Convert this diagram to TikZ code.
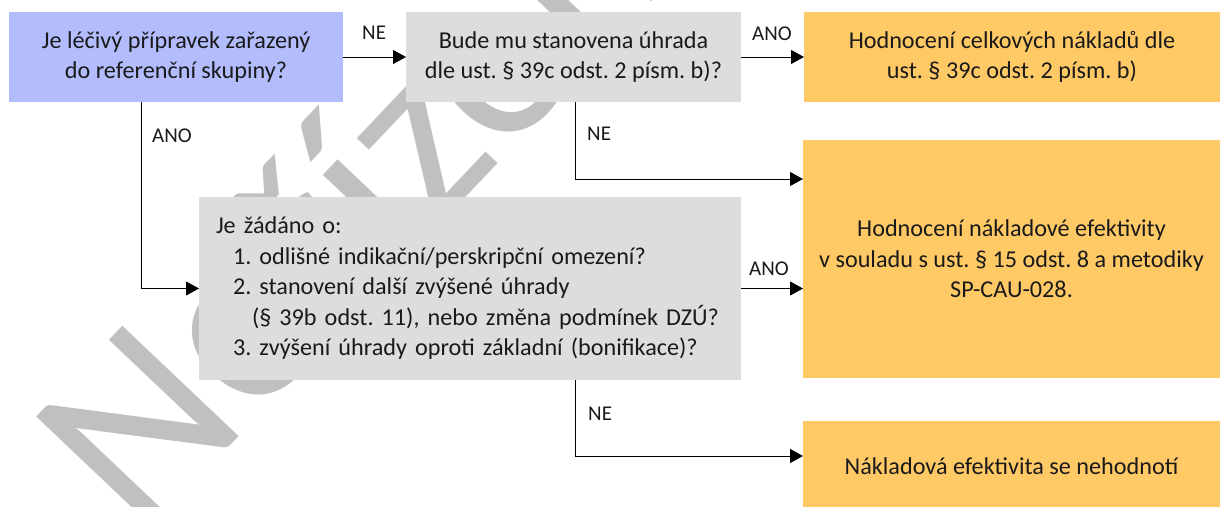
\documentclass[tikz,border=0pt]{standalone}
\usepackage{fontspec}
\setmainfont{Carlito}
\usetikzlibrary{arrows.meta}
\definecolor{bluebox}{HTML}{B3BDFE}
\definecolor{greybox}{HTML}{DDDDDD}
\definecolor{orangebox}{HTML}{FFC965}
\definecolor{wmark}{HTML}{C0C0C0}
\definecolor{txt}{HTML}{1A1A1A}
\frenchspacing
\begin{document}
\begin{tikzpicture}[x=1pt,y=-1pt,
  box/.style={inner sep=0pt, outer sep=0pt, align=center, text=txt,
    font=\fontsize{24.2}{30.5}\selectfont},
  bluestyle/.style={box, fill=bluebox},
  greystyle/.style={box, fill=greybox},
  orangestyle/.style={box, fill=orangebox},
  lbl/.style={font=\fontsize{21}{23}\selectfont, anchor=base west, inner sep=0pt, text=txt},
  arr/.style={-{Triangle[length=13pt,width=14pt]}, line width=1pt, draw=black},
]
\useasboundingbox (0,0) rectangle (1220,506);
\clip (0,0) rectangle (1220,506);
\fill[white] (0,0) rectangle (1220,506);
% watermark
\node[anchor=base west, rotate=46.5, text=wmark, inner sep=0pt,
  font=\fontsize{250}{250}\selectfont] (wm) at (140.5,541) {Neřízená kopie};
% boxes
\node[bluestyle, minimum width=334pt, minimum height=90pt] (blue) at (176,57)
  {Je léčivý přípravek zařazený\\do referenční skupiny?};
\node[greystyle, minimum width=335pt, minimum height=90pt] (grey1) at (573.5,57)
  {Bude mu stanovena úhrada\\dle ust. § 39c odst. 2 písm. b)?};
\node[orangestyle, minimum width=416pt, minimum height=90pt] (or1) at (1012,57)
  {Hodnocení celkových nákladů dle\\ust. § 39c odst. 2 písm. b)};
\node[orangestyle, minimum width=417pt, minimum height=238pt] (or2) at (1011.5,259)
  {Hodnocení nákladové efektivity\\v souladu s ust. § 15 odst. 8 a metodiky\\SP-CAU-028.};
\node[orangestyle, minimum width=417pt, minimum height=90pt] (or3) at (1011.5,466)
  {Nákladová efektivita se nehodnotí};
\node[greystyle, align=left, inner xsep=17pt, text width=508pt, minimum height=183pt] (grey2) at (470,288.5)
  {Je žádáno o:\\
   \hspace*{17pt}1. odlišné indikační/perskripční omezení?\\
   \hspace*{17pt}2. stanovení další zvýšené úhrady\\
   \hspace*{36pt}(§ 39b odst. 11), nebo změna podmínek DZÚ?\\
   \hspace*{17pt}3. zvýšení úhrady oproti základní (bonifikace)?};
% helper coordinates
\coordinate (c1) at (141,0);
\coordinate (c2) at (575,0);
\coordinate (y179) at (0,179);
\coordinate (y456) at (0,456);
% connectors
\draw[arr] (blue.east) -- (grey1.west);
\draw[arr] (grey1.east) -- (or1.west);
\draw[arr] (blue.south -| c1) |- (grey2.west);
\draw[arr] (grey1.south -| c2) |- (or2.west |- y179);
\draw[arr] (grey2.east) -- (grey2.east -| or2.west);
\draw[arr] (grey2.south -| c2) |- (or3.west |- y456);
% labels
\node[lbl] (l1) at (362,39) {NE};
\node[lbl] (l2) at (752,40) {ANO};
\node[lbl] (l3) at (152,142) {ANO};
\node[lbl] (l4) at (587,140) {NE};
\node[lbl] (l5) at (749,275) {ANO};
\node[lbl] (l6) at (588,420) {NE};
\end{tikzpicture}
\end{document}
